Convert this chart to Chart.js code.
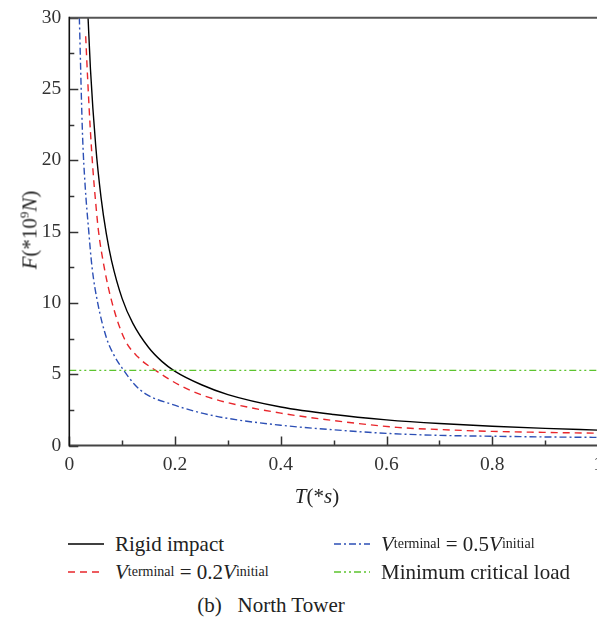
<!DOCTYPE html>
<html>
<head>
<meta charset="utf-8">
<script src="https://cdn.jsdelivr.net/npm/chart.js@4.4.1/dist/chart.umd.min.js"></script>
<style>
  html, body { margin: 0; padding: 0; background: #fff; overflow: hidden; width: 597px; height: 618px; }
  body { position: relative; font-family: 'Liberation Serif', 'DejaVu Serif', serif; color: #222; }
  #chart { position: absolute; left: 0; top: 0; }
  .ytitle { position: absolute; left: 30px; top: 230px; transform: translate(-50%, -50%) rotate(-90deg); font-size: 21px; white-space: nowrap; }
  .xtitle { position: absolute; left: 317px; top: 496px; transform: translate(-50%, -50%); font-size: 21px; white-space: nowrap; }
  .item { position: absolute; white-space: nowrap; display: flex; align-items: center; transform: translateY(-50%); font-size: 21px; line-height: 24px; }
  .item svg { margin-right: 11px; }
  sub { font-size: 14px; vertical-align: -4px; line-height: 0; }
  sup { font-size: 13px; vertical-align: 8px; line-height: 0; }
  .caption { position: absolute; left: 271px; top: 605px; transform: translate(-50%, -50%); font-size: 21px; white-space: nowrap; }
</style>
</head>
<body>
<canvas id="chart" width="610" height="515"></canvas>
<div class="ytitle"><i>F</i>(*10<sup>9</sup><i>N</i>)</div>
<div class="xtitle"><i>T</i>(*<i>s</i>)</div>
<div class="item" style="left:68px; top:544px;">
  <svg width="36" height="4"><line x1="0" y1="2" x2="36" y2="2" stroke="#000" stroke-width="1.4"/></svg>Rigid impact
</div>
<div class="item" style="left:68px; top:572px;">
  <svg width="36" height="4"><line x1="0" y1="2" x2="36" y2="2" stroke="#e8262b" stroke-width="1.4" stroke-dasharray="7,5"/></svg><i>V</i><sub>terminal</sub>&nbsp;= 0.2<i>V</i><sub>initial</sub>
</div>
<div class="item" style="left:334px; top:544px;">
  <svg width="36" height="4"><line x1="0" y1="2" x2="36" y2="2" stroke="#2c4fb5" stroke-width="1.4" stroke-dasharray="7,3,2,3"/></svg><i>V</i><sub>terminal</sub>&nbsp;= 0.5<i>V</i><sub>initial</sub>
</div>
<div class="item" style="left:334px; top:572px;">
  <svg width="36" height="4"><line x1="0" y1="2" x2="36" y2="2" stroke="#5cc42e" stroke-width="1.4" stroke-dasharray="7,3,2,3,2,3"/></svg>Minimum critical load
</div>
<div class="caption">(b)&nbsp;&nbsp; North Tower</div>
<script>
// values
const rigidT = [0.0355, 0.04, 0.05, 0.06, 0.07, 0.08, 0.1, 0.12, 0.15, 0.175, 0.2, 0.25, 0.3, 0.4, 0.5, 0.6, 0.7, 0.8, 0.9, 1.0];
const rigidF = [30, 26.4, 21.0, 17.4, 14.85, 12.95, 10.3, 8.58, 6.87, 5.9, 5.2, 4.26, 3.57, 2.7, 2.17, 1.8, 1.54, 1.35, 1.2, 1.08];

const v02T = [0.031, 0.035, 0.04, 0.045, 0.05, 0.055, 0.066, 0.081, 0.104, 0.13, 0.163, 0.208, 0.25, 0.3, 0.4, 0.5, 0.62, 0.7, 0.8, 0.9, 1.0];
const v02F = [28.7, 25.5, 22, 19.2, 17, 15.1, 12.5, 10, 7.5, 6.2, 5.27, 4.24, 3.55, 3.0, 2.27, 1.75, 1.27, 1.12, 0.99, 0.92, 0.86];

const v05T = [0.019, 0.025, 0.03, 0.0366, 0.043, 0.0537, 0.0707, 0.085, 0.103, 0.123, 0.145, 0.193, 0.248, 0.3, 0.4, 0.5, 0.6, 0.7, 0.8, 0.9, 1.0];
const v05F = [30, 21.8, 18.2, 15.1, 12.5, 10, 7.5, 6.3, 5.27, 4.3, 3.6, 2.9, 2.3, 1.9, 1.42, 1.1, 0.85, 0.71, 0.65, 0.6, 0.57];

const criticalT = [0, 1];
const criticalF = [5.27, 5.27];

const xTicks = [0, 0.2, 0.4, 0.6, 0.8, 1];
const yTicks = [0, 5, 10, 15, 20, 25, 30];

const pts = (xs, ys) => xs.map((x, i) => ({ x, y: ys[i] }));

// inward ticks + frame drawn on the chart area
const framePlugin = {
    id: 'frame',
    afterDraw(chart) {
        const { ctx, chartArea: a, scales: { x, y } } = chart;
        ctx.save();
        ctx.lineCap = 'butt';
        ctx.strokeStyle = '#333';
        ctx.lineWidth = 1.5;
        for (let i = 0; i <= 10; i++) {
            const px = Math.round(x.getPixelForValue(i / 10)) + 0.5;
            ctx.beginPath();
            ctx.moveTo(px, a.bottom);
            ctx.lineTo(px, a.bottom - (i % 2 === 0 ? 9 : 5));
            ctx.stroke();
        }
        for (let i = 0; i <= 12; i++) {
            const py = Math.round(y.getPixelForValue(i * 2.5)) + 0.5;
            ctx.beginPath();
            ctx.moveTo(a.left, py);
            ctx.lineTo(a.left + (i % 2 === 0 ? 9 : 5), py);
            ctx.stroke();
        }
        // top frame
        ctx.strokeStyle = '#555';
        ctx.lineWidth = 2;
        ctx.beginPath();
        ctx.moveTo(a.left, a.top);
        ctx.lineTo(a.right + 5, a.top);
        ctx.stroke();
        // bottom axis
        ctx.strokeStyle = '#444';
        ctx.beginPath();
        ctx.moveTo(a.left, a.bottom);
        ctx.lineTo(a.right + 5, a.bottom);
        ctx.stroke();
        // left axis
        ctx.strokeStyle = '#111';
        ctx.lineWidth = 1.6;
        ctx.beginPath();
        ctx.moveTo(a.left, a.top - 1);
        ctx.lineTo(a.left, a.bottom + 1);
        ctx.stroke();
        ctx.restore();
    }
};

const line = (label, data, color, dash) => ({
    label,
    data,
    borderColor: color,
    borderWidth: 1.4,
    borderDash: dash,
    pointRadius: 0,
    cubicInterpolationMode: 'monotone',
    fill: false,
});

const tickFont = { family: "'Liberation Serif', serif", size: 19.5 };

new Chart(document.getElementById('chart'), {
    type: 'line',
    data: {
        datasets: [
            line('Minimum critical load', pts(criticalT, criticalF), '#5cc42e', [7, 3, 2, 3, 2, 3]),
            line('V0.5', pts(v05T, v05F), '#2c4fb5', [7, 3, 2, 3]),
            line('V0.2', pts(v02T, v02F), '#e8262b', [7, 5]),
            line('Rigid impact', pts(rigidT, rigidF), '#000', []),
        ],
    },
    options: {
        responsive: false,
        animation: false,
        layout: { padding: { top: 17.7, right: 12, left: 0, bottom: 0 } },
        plugins: { legend: { display: false }, tooltip: { enabled: false } },
        scales: {
            x: {
                type: 'linear',
                min: 0,
                max: 1,
                afterBuildTicks: s => { s.ticks = xTicks.map(v => ({ value: v })); },
                afterFit: s => { s.height = 69.5; s.paddingLeft = 0; s.paddingRight = 0; },
                grid: { display: false, drawTicks: false },
                border: { display: false },
                ticks: { padding: 8, color: '#333', font: tickFont, maxRotation: 0, callback: v => String(v) },
            },
            y: {
                type: 'linear',
                min: 0,
                max: 30,
                afterBuildTicks: s => { s.ticks = yTicks.map(v => ({ value: v })); },
                afterFit: s => { s.width = 69.3; s.paddingTop = 0; s.paddingBottom = 0; },
                grid: { display: false, drawTicks: false },
                border: { display: false },
                ticks: { padding: 8, color: '#333', font: tickFont, callback: v => String(v) },
            },
        },
    },
    plugins: [framePlugin],
});
</script>
</body>
</html>
